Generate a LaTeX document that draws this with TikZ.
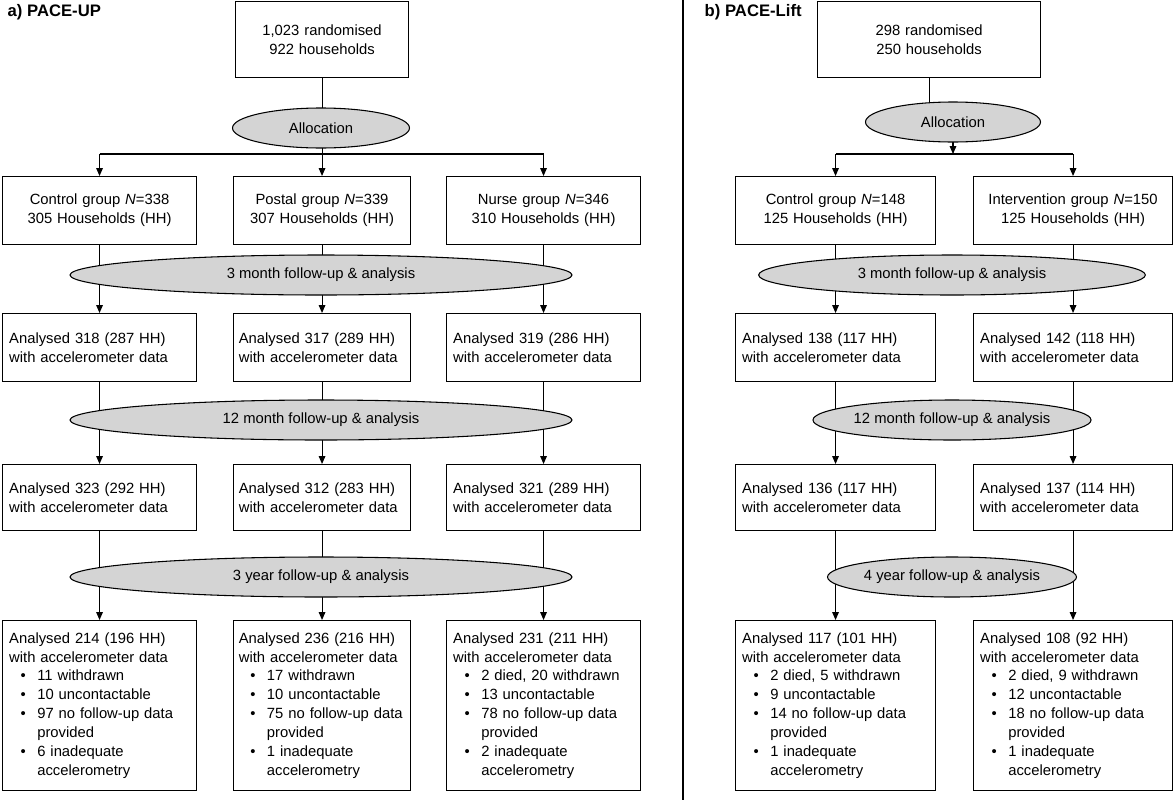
\documentclass[tikz,border=0pt]{standalone}
\usepackage{fontspec}
\setmainfont{Liberation Sans}
\usetikzlibrary{shapes.geometric,arrows.meta}
\begin{document}
\begin{tikzpicture}[x=0.75pt,y=-0.75pt,
  font=\fontsize{11.1}{14.2}\selectfont,
  box/.style={draw,thick,anchor=north west,inner xsep=5pt,inner ysep=2pt,align=left},
  cbox/.style={box,align=center},
  ell/.style={draw,thick,ellipse,fill=black!17,minimum height=30pt,inner sep=0pt},
  arr/.style={thick,-{Triangle[length=6pt,width=5pt]}},
  ln/.style={thick}]
\useasboundingbox (0,0) rectangle (1175,800);
\newcommand{\bi}{\makebox[1.9em][c]{\textbullet}}
\newcommand{\bc}{\hspace*{1.9em}}
\node[anchor=west,font=\bfseries\fontsize{12.5}{14}\selectfont] (ta) at (3,12) {a) PACE-UP};
\node[anchor=west,font=\bfseries\fontsize{12.5}{14}\selectfont] (tb) at (700,12) {b) PACE-Lift};
\coordinate (d1) at (683,0); \coordinate (d2) at (683,800);
\draw[line width=1.5pt] (d1) -- (d2);
% left boxes
\node[cbox,text width=119.75pt,minimum height=57pt] (top) at (235,1) {1,023 randomised\\922 households};
\node[cbox,text width=135.5pt,minimum height=51pt] (c1) at (2,176) {Control group \textit{N}=338\\305 Households (HH)};
\node[cbox,text width=124.75pt,inner xsep=4pt,minimum height=51pt] (p1) at (233,176) {Postal group \textit{N}=339\\307 Households (HH)};
\node[cbox,text width=135.5pt,minimum height=51pt] (n1) at (446,176) {Nurse group \textit{N}=346\\310 Households (HH)};
\node[box,text width=135.5pt,minimum height=51pt] (c2) at (2,313) {Analysed 318 (287 HH)\\with accelerometer data};
\node[box,text width=124.75pt,inner xsep=4pt,minimum height=51pt] (p2) at (233,313) {Analysed 317 (289 HH)\\with accelerometer data};
\node[box,text width=135.5pt,minimum height=51pt] (n2) at (446,313) {Analysed 319 (286 HH)\\with accelerometer data};
\node[box,text width=135.5pt,minimum height=49.5pt] (c3) at (2,464) {Analysed 323 (292 HH)\\with accelerometer data};
\node[box,text width=124.75pt,inner xsep=4pt,minimum height=49.5pt] (p3) at (233,464) {Analysed 312 (283 HH)\\with accelerometer data};
\node[box,text width=135.5pt,minimum height=49.5pt] (n3) at (446,464) {Analysed 321 (289 HH)\\with accelerometer data};
\node[box,text width=135.5pt,minimum height=127.5pt] (c4) at (2,620) {Analysed 214 (196 HH)\\with accelerometer data\\\bi 11 withdrawn\\\bi 10 uncontactable\\\bi 97 no follow-up data\\\bc provided\\\bi 6 inadequate\\\bc accelerometry};
\node[box,text width=124.75pt,inner xsep=4pt,minimum height=127.5pt] (p4) at (233,620) {Analysed 236 (216 HH)\\with accelerometer data\\\bi 17 withdrawn\\\bi 10 uncontactable\\\bi 75 no follow-up data\\\bc provided\\\bi 1 inadequate\\\bc accelerometry};
\node[box,text width=135.5pt,minimum height=127.5pt] (n4) at (446,620) {Analysed 231 (211 HH)\\with accelerometer data\\\bi 2 died, 20 withdrawn\\\bi 13 uncontactable\\\bi 78 no follow-up data\\\bc provided\\\bi 2 inadequate\\\bc accelerometry};
% right boxes
\node[cbox,text width=157.25pt,minimum height=57pt] (rtop) at (817,1) {298 randomised\\250 households};
\node[cbox,text width=140pt,minimum height=51pt] (rc1) at (735,176) {Control group \textit{N}=148\\125 Households (HH)};
\node[cbox,text width=139.25pt,minimum height=51pt] (ri1) at (973,176) {Intervention group \textit{N}=150\\125 Households (HH)};
\node[box,text width=140pt,minimum height=51pt] (rc2) at (735,313) {Analysed 138 (117 HH)\\with accelerometer data};
\node[box,text width=139.25pt,minimum height=51pt] (ri2) at (973,313) {Analysed 142 (118 HH)\\with accelerometer data};
\node[box,text width=140pt,minimum height=49.5pt] (rc3) at (735,464) {Analysed 136 (117 HH)\\with accelerometer data};
\node[box,text width=139.25pt,minimum height=49.5pt] (ri3) at (973,464) {Analysed 137 (114 HH)\\with accelerometer data};
\node[box,text width=140pt,minimum height=127.5pt] (rc4) at (735,620) {Analysed 117 (101 HH)\\with accelerometer data\\\bi 2 died, 5 withdrawn\\\bi 9 uncontactable\\\bi 14 no follow-up data\\\bc provided\\\bi 1 inadequate\\\bc accelerometry};
\node[box,text width=139.25pt,minimum height=127.5pt] (ri4) at (973,620) {Analysed 108 (92 HH)\\with accelerometer data\\\bi 2 died, 9 withdrawn\\\bi 12 uncontactable\\\bi 18 no follow-up data\\\bc provided\\\bi 1 inadequate\\\bc accelerometry};
% junctions
\coordinate (j) at (321,154);
\coordinate (rj) at (953,154);
\coordinate (ra) at (953,122);
% left connectors
\draw[ln] (top.south) -- (top.south |- j);
\draw[ln] (c1.north |- j) -- (n1.north |- j);
\draw[arr] (c1.north |- j) -- (c1.north);
\draw[arr] (p1.north |- j) -- (p1.north);
\draw[arr] (n1.north |- j) -- (n1.north);
\foreach \a/\b in {c1/c2,p1/p2,n1/n2,c2/c3,p2/p3,n2/n3,c3/c4,p3/p4,n3/n4}
  \draw[arr] (\a.south) -- (\b.north);
% right connectors
\draw[ln] (rtop.south) -- (rtop.south |- ra);
\draw[arr] (ra) -- (rj);
\draw[ln] (rc1.north |- rj) -- (ri1.north |- rj);
\draw[arr] (rc1.north |- rj) -- (rc1.north);
\draw[arr] (ri1.north |- rj) -- (ri1.north);
\foreach \a/\b in {rc1/rc2,ri1/ri2,rc2/rc3,ri2/ri3,rc3/rc4,ri3/ri4}
  \draw[arr] (\a.south) -- (\b.north);
% ellipses
\node[ell,minimum width=132.75pt] (al) at (321,128) {Allocation};
\node[ell,minimum width=376.5pt] (e1) at (321,275) {3 month follow-up \& analysis};
\node[ell,minimum width=376.5pt] (e2) at (321,420) {12 month follow-up \& analysis};
\node[ell,minimum width=376.5pt] (e3) at (321,577) {3 year follow-up \& analysis};
\node[ell,minimum width=131.25pt] (ral) at (ra) {Allocation};
\node[ell,minimum width=290pt] (re1) at (952,275) {3 month follow-up \& analysis};
\node[ell,minimum width=185pt] (re2) at (952,420) {12 month follow-up \& analysis};
\node[ell,minimum width=185pt] (re3) at (952,577) {4 year follow-up \& analysis};
\end{tikzpicture}
\end{document}
